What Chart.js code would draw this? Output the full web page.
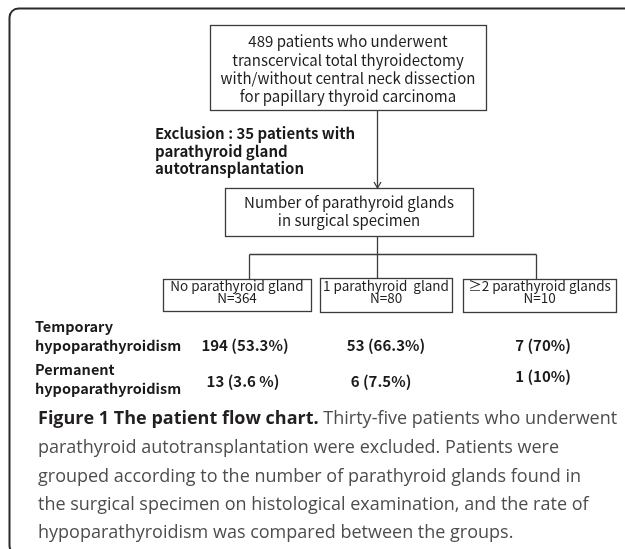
<!DOCTYPE html>
<html>
<head>
<meta charset="utf-8">
<script src="https://cdn.jsdelivr.net/npm/chart.js@4/dist/chart.umd.min.js"></script>
<style>
  html, body { margin: 0; padding: 0; background: #fff; }
  canvas { display: block; }
</style>
</head>
<body>
<canvas id="flow" width="625" height="549"></canvas>
<script>
// Data
const totalPatients = 489;
const excludedPatients = 35;
const groupLabels = ['No parathyroid gland', '1 parathyroid  gland', '\u22652 parathyroid glands'];
const groupN = [364, 80, 10];
const temporaryCounts = [194, 53, 7];
const temporaryPct = ['53.3%', '66.3%', '70%'];
const permanentCounts = [13, 6, 1];
const permanentPct = ['3.6 %', '7.5%', '10%'];

const captionBold = 'Figure 1 The patient flow chart.';
const captionLines = [
  ' Thirty-five patients who underwent',
  'parathyroid autotransplantation were excluded. Patients were',
  'grouped according to the number of parathyroid glands found in',
  'the surgical specimen on histological examination, and the rate of',
  'hypoparathyroidism was compared between the groups.'
];

// Layout (pixels in a 625 x 549 value space)
const boxFont = '"Noto Sans CJK KR", "Noto Sans", sans-serif';
const capFont = '"Open Sans", "Noto Sans", sans-serif';
const cjkShift = -2; // latin glyphs of the CJK font sit low on 'middle'
const layout = {
  topBox: [210, 25, 486, 110], topLines: [43, 62, 80, 98], topCx: 348,
  stemX: 377.5,
  exclX: 155, exclLines: [135, 153, 170],
  midBox: [225, 188, 473, 236], midLines: [204, 222], midCx: 349,
  branchY: 254.5,
  groupBoxes: [[163, 279, 311, 311], [320, 278, 452, 312], [463, 279, 616, 312]],
  branchX: [249.5, 377.5, 536.5],
  groupLines: [288, 300],
  rowLabelX: 35,
  tempLabelY: [328, 347], tempY: [347, 347, 347], tempCx: [245, 386, 543],
  permLabelY: [371, 390], permY: [383, 383, 378], permCx: [243, 381, 543],
  capX: 38, capY: [419, 448, 477, 505, 533]
};

const flowPlugin = {
  id: 'flow',
  afterDraw(chart) {
    const ctx = chart.ctx;
    const X = v => chart.scales.x.getPixelForValue(v);
    const Y = v => chart.scales.y.getPixelForValue(v);

    function line(x0, y0, x1, y1) {
      ctx.beginPath();
      ctx.moveTo(X(x0), Y(y0));
      ctx.lineTo(X(x1), Y(y1));
      ctx.stroke();
    }
    function box(b) {
      ctx.strokeRect(X(b[0]) + 0.5, Y(b[1]) + 0.5, X(b[2]) - X(b[0]), Y(b[3]) - Y(b[1]));
    }
    function text(s, x, y, font, color, align, dy) {
      ctx.font = font;
      ctx.fillStyle = color;
      ctx.textAlign = align || 'center';
      ctx.textBaseline = 'middle';
      ctx.fillText(s, X(x), Y(y) + (dy || 0));
    }

    ctx.save();

    // outer rounded frame (cut off at right and bottom)
    ctx.strokeStyle = '#2a2a2a';
    ctx.lineWidth = 2;
    ctx.beginPath();
    ctx.roundRect(X(9.5), Y(8.5), 700, 546, 9);
    ctx.stroke();

    ctx.strokeStyle = '#3c3c3c';
    ctx.lineWidth = 1.3;

    // top box
    box(layout.topBox);
    const topText = [
      totalPatients + ' patients who underwent',
      'transcervical total thyroidectomy',
      'with/without central neck dissection',
      'for papillary thyroid carcinoma'
    ];
    topText.forEach((s, i) => text(s, layout.topCx, layout.topLines[i], '15px ' + boxFont, '#1e1e1e', 'center', cjkShift));

    // stem with arrow
    line(layout.stemX, layout.topBox[3], layout.stemX, layout.midBox[1]);
    ctx.beginPath();
    ctx.moveTo(X(layout.stemX - 3.5), Y(layout.midBox[1] - 6));
    ctx.lineTo(X(layout.stemX), Y(layout.midBox[1]));
    ctx.lineTo(X(layout.stemX + 3.5), Y(layout.midBox[1] - 6));
    ctx.stroke();

    // exclusion note
    const exclText = ['Exclusion : ' + excludedPatients + ' patients with', 'parathyroid gland', 'autotransplantation'];
    exclText.forEach((s, i) => text(s, layout.exclX, layout.exclLines[i], 'bold 15px ' + boxFont, '#1a1a1a', 'left', cjkShift));

    // middle box
    box(layout.midBox);
    ['Number of parathyroid glands', 'in surgical specimen'].forEach((s, i) =>
      text(s, layout.midCx, layout.midLines[i], '15px ' + boxFont, '#1e1e1e', 'center', cjkShift));

    // branches
    line(layout.stemX, layout.midBox[3], layout.stemX, layout.branchY);
    line(layout.branchX[0], layout.branchY, layout.branchX[2], layout.branchY);
    layout.branchX.forEach((bx, i) => line(bx, layout.branchY, bx, layout.groupBoxes[i][1]));

    // group boxes
    layout.groupBoxes.forEach((b, i) => {
      box(b);
      const cx = (b[0] + b[2]) / 2;
      text(groupLabels[i], cx, layout.groupLines[0], '13.5px ' + boxFont, '#1e1e1e', 'center', cjkShift);
      text('N=' + groupN[i], cx, layout.groupLines[1], '13.5px ' + boxFont, '#1e1e1e', 'center', cjkShift);
    });

    // outcome rows
    const lblFont = 'bold 14.5px ' + boxFont;
    text('Temporary', layout.rowLabelX, layout.tempLabelY[0], lblFont, '#1a1a1a', 'left', cjkShift);
    text('hypoparathyroidism', layout.rowLabelX, layout.tempLabelY[1], lblFont, '#1a1a1a', 'left', cjkShift);
    text('Permanent', layout.rowLabelX, layout.permLabelY[0], lblFont, '#1a1a1a', 'left', cjkShift);
    text('hypoparathyroidism', layout.rowLabelX, layout.permLabelY[1], lblFont, '#1a1a1a', 'left', cjkShift);
    temporaryCounts.forEach((c, i) =>
      text(c + ' (' + temporaryPct[i] + ')', layout.tempCx[i], layout.tempY[i], 'bold 15px ' + boxFont, '#1a1a1a', 'center', cjkShift));
    permanentCounts.forEach((c, i) =>
      text(c + ' (' + permanentPct[i] + ')', layout.permCx[i], layout.permY[i], 'bold 15px ' + boxFont, '#1a1a1a', 'center', cjkShift));

    // caption
    const boldF = 'bold 18px ' + capFont;
    const regF = '18px ' + capFont;
    text(captionBold, layout.capX, layout.capY[0], boldF, '#231f20', 'left');
    ctx.font = boldF;
    const bw = ctx.measureText(captionBold).width;
    text(captionLines[0], layout.capX + bw, layout.capY[0], regF, '#4d4d4d', 'left');
    for (let i = 1; i < captionLines.length; i++) {
      text(captionLines[i], layout.capX, layout.capY[i], regF, '#4d4d4d', 'left');
    }

    ctx.restore();
  }
};

new Chart(document.getElementById('flow').getContext('2d'), {
  type: 'scatter',
  data: { datasets: [{ data: [], pointRadius: 0 }] },
  options: {
    responsive: false,
    animation: false,
    devicePixelRatio: 1,
    layout: { padding: 0 },
    plugins: { legend: { display: false }, tooltip: { enabled: false } },
    scales: {
      x: { type: 'linear', min: 0, max: 625, display: false },
      y: { type: 'linear', min: 0, max: 549, reverse: true, display: false }
    }
  },
  plugins: [flowPlugin]
});
</script>
</body>
</html>
